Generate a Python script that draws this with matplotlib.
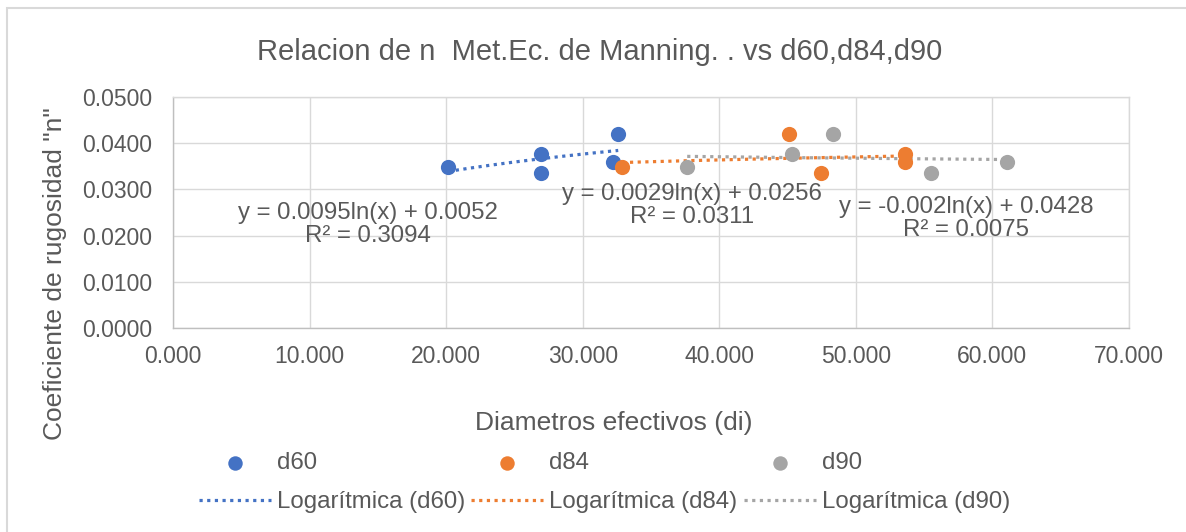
import numpy as np
import matplotlib
matplotlib.use("Agg")
import matplotlib.pyplot as plt
from matplotlib.patches import Rectangle

plt.rcParams['font.family'] = ['Liberation Sans', 'DejaVu Sans']

# ---- data ----
n_values = [0.0348, 0.0376, 0.0335, 0.0420, 0.0360]
d60_x = [20.15, 26.92, 26.92, 32.60, 32.25]
d60_y = n_values
d84_x = [32.90, 53.60, 47.45, 45.10, 53.60]
d84_y = [0.0348, 0.0376, 0.0335, 0.0420, 0.0360]
d90_x = [37.65, 45.30, 55.50, 48.30, 61.10]
d90_y = [0.0348, 0.0376, 0.0335, 0.0420, 0.0360]

series_names = ["d60", "d84", "d90"]
colors = ["#4472C4", "#ED7D31", "#A5A5A5"]
equations = ["y = 0.0095ln(x) + 0.0052\nR² = 0.3094",
             "y = 0.0029ln(x) + 0.0256\nR² = 0.0311",
             "y = -0.002ln(x) + 0.0428\nR² = 0.0075"]
eq_pos = [(14.3, 0.0224), (38.0, 0.0265), (58.1, 0.0237)]

x_ticks = [0, 10, 20, 30, 40, 50, 60, 70]
y_ticks = [0.0, 0.01, 0.02, 0.03, 0.04, 0.05]

title = "Relacion de n  Met.Ec. de Manning. . vs d60,d84,d90"
xlabel = "Diametros efectivos (di)"
ylabel = 'Coeficiente de rugosidad "n"'

TXT = "#595959"
GRID = "#D9D9D9"

W, H = 1186, 532
fig = plt.figure(figsize=(W / 100, H / 100), dpi=100)
fig.patch.set_facecolor("white")

# chart border (only top/left visible in reference)
fig.patches.append(Rectangle((7 / W, -0.1), 1.2, 1 - 8 / H + 0.1,
                             transform=fig.transFigure, fill=False,
                             edgecolor=GRID, linewidth=1.5))

ax = fig.add_axes([173 / W, 1 - 328 / H, (1129 - 173) / W, (328 - 97) / H])
ax.set_xlim(0, 70)
ax.set_ylim(0, 0.05)
ax.set_xticks(x_ticks)
ax.set_yticks(y_ticks)
ax.set_xticklabels([f"{v:.3f}" for v in x_ticks])
ax.set_yticklabels([f"{v:.4f}" for v in y_ticks])
ax.tick_params(length=0, labelsize=16.5, labelcolor=TXT)
ax.tick_params(axis='y', pad=15)
ax.tick_params(axis='x', pad=12)
ax.grid(True, color=GRID, linewidth=1.0)
ax.set_axisbelow(True)
for s in ax.spines.values():
    s.set_color(GRID)
    s.set_linewidth(1.0)
ax.spines['left'].set_color("#BFBFBF")
ax.spines['bottom'].set_color("#BFBFBF")

handles = []
for xs, ys, name, col, eq, pos in zip([d60_x, d84_x, d90_x], [d60_y, d84_y, d90_y],
                                      series_names, colors, equations, eq_pos):
    xs = np.asarray(xs)
    ys = np.asarray(ys)
    sc = ax.scatter(xs, ys, s=120, color=col, zorder=3, label=name, linewidths=0)
    a, b = np.polyfit(np.log(xs), ys, 1)
    xx = np.linspace(xs.min(), xs.max(), 200)
    ln, = ax.plot(xx, a * np.log(xx) + b, color=col, linewidth=2.3,
                  linestyle=(0, (1, 1.4)), zorder=2,
                  label=f"Logarítmica ({name})")
    handles += [sc, ln]
    ax.text(pos[0], pos[1], eq, ha="center", va="center", fontsize=17.3,
            color=TXT, linespacing=1.05, zorder=4)

fig.text(600 / W, 1 - 52 / H, title, ha="center", va="center",
         fontsize=21, color=TXT)
fig.text(614 / W, 1 - 423 / H, xlabel, ha="center", va="center",
         fontsize=19, color=TXT)
fig.text(55 / W, 1 - 274 / H, ylabel, ha="center", va="center",
         fontsize=19, color=TXT, rotation=90)

leg = fig.legend(handles=handles, ncol=3, loc="upper left",
                 bbox_to_anchor=(199 / W, 1 - 452 / H), frameon=False,
                 fontsize=17.3, handlelength=3.0, handletextpad=0.25,
                 columnspacing=0.25, labelspacing=0.72, borderpad=0,
                 borderaxespad=0, markerscale=0.95)
for t in leg.get_texts():
    t.set_color(TXT)

fig.savefig("out.png", dpi=100, facecolor="white")
